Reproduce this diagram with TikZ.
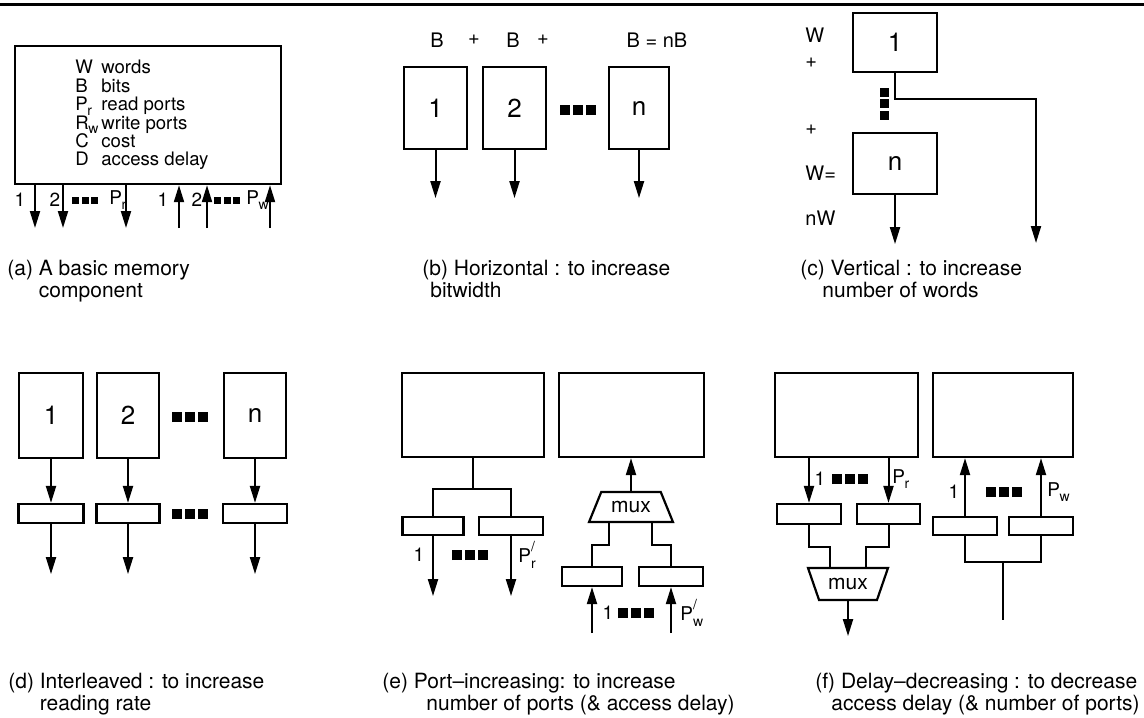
\documentclass[tikz,border=0pt]{standalone}
\usepackage{fontspec}
\setmainfont{TeX Gyre Heros}
\usepackage{tikz}
\usetikzlibrary{shapes.geometric, arrows.meta, positioning}
\newcommand{\tres}[1]{\rule{#1}{#1}\hspace{1.4pt}\rule{#1}{#1}\hspace{1.4pt}\rule{#1}{#1}}
\newcommand{\conind}[2]{#1\kern-0.2pt\raisebox{-0.45ex}{\scriptsize #2}}
\newcommand{\conprim}[2]{#1\rlap{\raisebox{1.1ex}{\scriptsize /}}\raisebox{-0.6ex}{\scriptsize #2}}
\tikzset{
  memoria/.style={rectangle, draw, line width=1.1pt, inner sep=0pt,
    font=\fontsize{13}{13}\selectfont},
  registro/.style={rectangle, draw, line width=1.1pt, inner sep=0pt},
  mux/.style={trapezium, draw, line width=1.1pt, trapezium stretches=true,
    inner sep=0pt, font=\fontsize{10.5}{10.5}\selectfont},
  flecha/.style={-{Triangle[length=8.5pt, width=5pt]}, line width=1pt},
  linea/.style={line width=1pt},
  etiq/.style={inner sep=0pt, font=\fontsize{9.5}{9.5}\selectfont},
  etiqg/.style={inner sep=0pt, font=\fontsize{10}{10}\selectfont},
  puntos/.style={inner sep=0pt},
  leyenda/.style={inner sep=0pt, anchor=north west, align=left,
    font=\fontsize{10.5}{10.8}\selectfont}
}
\begin{document}
\begin{tikzpicture}[x=0.5pt, y=-0.5pt]
  \useasboundingbox (0,0) rectangle (1144,717);
  \draw[line width=1.5pt] (0,5) -- (1144,5);

  % (a) basic memory
  \node[memoria, minimum width=133pt, minimum height=69pt, anchor=north west] (ma) at (14,45) {};
  \node[anchor=north west, inner sep=0pt, align=left, font=\fontsize{9.3}{9.2}\selectfont] (datos) at (75,60)
    {\makebox[13pt][l]{W}words\\ \makebox[13pt][l]{B}bits\\ \makebox[13pt][l]{\conind{P}{r}}read ports\\
     \makebox[13pt][l]{\conind{R}{w}}write ports\\ \makebox[13pt][l]{C}cost\\ \makebox[13pt][l]{D}access delay};
  \coordinate (ra1) at (35,228);
  \coordinate (ra2) at (63,228);
  \coordinate (ra3) at (126,228);
  \coordinate (wa1) at (179,228);
  \coordinate (wa2) at (207,228);
  \coordinate (wa3) at (270,228);
  \draw[flecha] (ra1 |- ma.south) -- (ra1);
  \draw[flecha] (ra2 |- ma.south) -- (ra2);
  \draw[flecha] (ra3 |- ma.south) -- (ra3);
  \draw[flecha] (wa1) -- (wa1 |- ma.south);
  \draw[flecha] (wa2) -- (wa2 |- ma.south);
  \draw[flecha] (wa3) -- (wa3 |- ma.south);
  \node[etiq] (la1) at (20,200) {1};
  \node[etiq] (la2) at (55,200) {2};
  \node[puntos] (pa1) at (85,200) {\tres{3.5pt}};
  \node[etiq, anchor=west] (la3) at (109,200) {\conind{P}{r}};
  \node[etiq] (la4) at (163,200) {1};
  \node[etiq] (la5) at (197,200) {2};
  \node[puntos] (pa2) at (227,200) {\tres{3.5pt}};
  \node[etiq, anchor=west] (la6) at (246,200) {\conind{P}{w}};
  \node[leyenda] (capa) at (7,260) {(a) A basic memory\\\phantom{(a) }component};

  % (b) horizontal
  \node[memoria, minimum width=31.5pt, minimum height=41pt] (b1) at (435.5,108) {1};
  \node[memoria, minimum width=31.5pt, minimum height=41pt] (b2) at (514.5,108) {2};
  \node[memoria, minimum width=30pt, minimum height=41pt] (bn) at (639,108) {n};
  \node[puntos] (pb) at (578,110) {\tres{5pt}};
  \node[etiqg] (lb1) at (437,40) {B};
  \node[etiqg] (lb2) at (474,40) {+};
  \node[etiqg] (lb3) at (513,40) {B};
  \node[etiqg] (lb4) at (543,40) {+};
  \node[etiqg] (lb5) at (657,40) {B = nB};
  \coordinate[below=24pt of b1] (sb1);
  \coordinate[below=24pt of b2] (sb2);
  \coordinate[below=24pt of bn] (sbn);
  \draw[flecha] (b1) -- (sb1);
  \draw[flecha] (b2) -- (sb2);
  \draw[flecha] (bn) -- (sbn);
  \node[leyenda] (capb) at (422,260) {(b) Horizontal : to increase\\\hspace{4pt}bitwidth};

  % (c) vertical
  \node[memoria, minimum width=42pt, minimum height=29.5pt] (c1) at (895,42.5) {1};
  \node[memoria, minimum width=42pt, minimum height=30.5pt] (cn) at (895,163.5) {n};
  \node[etiqg, anchor=west] (lc1) at (805,35) {W};
  \node[etiqg, anchor=west] (lc2) at (805,63) {+};
  \node[etiqg, anchor=west] (lc3) at (805,130) {+};
  \node[etiqg, anchor=west] (lc4) at (805,173) {W=};
  \node[etiqg, anchor=west] (lc5) at (805,218) {nW};
  \node[puntos, rotate=90] (pc) at (884,104) {\tres{4.5pt}};
  \coordinate (cq) at (1036,99);
  \coordinate (sc1) at (1036,243);
  \coordinate[below=24.5pt of cn] (scn);
  \draw[flecha] (c1.south) |- (cq) -- (sc1);
  \draw[flecha] (cn) -- (scn);
  \node[leyenda] (capc) at (800,260) {(c) Vertical : to increase\\\hspace{11pt}number of words};

  % (d) interleaved
  \node[memoria, minimum width=32pt, minimum height=42.5pt] (d1) at (51,415.5) {1};
  \node[memoria, minimum width=31pt, minimum height=42.5pt] (d2) at (128,415.5) {2};
  \node[memoria, minimum width=31pt, minimum height=42.5pt] (dn) at (255,415.5) {n};
  \node[registro, minimum width=32.5pt, minimum height=9.5pt] (rd1) at (51,513.5) {};
  \node[registro, minimum width=31.5pt, minimum height=9.5pt] (rd2) at (128,513.5) {};
  \node[registro, minimum width=32pt, minimum height=9.5pt] (rdn) at (255,513.5) {};
  \node[puntos] (pd1) at (190,417) {\tres{5pt}};
  \node[puntos] (pd2) at (190,514) {\tres{5pt}};
  \coordinate[below=25pt of rd1] (sd1);
  \coordinate[below=25pt of rd2] (sd2);
  \coordinate[below=25pt of rdn] (sdn);
  \draw[flecha] (d1) -- (rd1);
  \draw[flecha] (d2) -- (rd2);
  \draw[flecha] (dn) -- (rdn);
  \draw[flecha] (rd1) -- (sd1);
  \draw[flecha] (rd2) -- (sd2);
  \draw[flecha] (rdn) -- (sdn);
  \node[leyenda] (capd) at (8,673) {(d) Interleaved : to increase\\\phantom{(d) }reading rate};

  % (e) port-increasing
  \node[memoria, minimum width=71pt, minimum height=42pt] (e1) at (473,415) {};
  \node[memoria, minimum width=72.5pt, minimum height=42pt] (e2) at (631.5,415) {};
  \node[registro, minimum width=30.5pt, minimum height=9pt] (er1) at (433,526) {};
  \node[registro, minimum width=32pt, minimum height=9pt] (er2) at (511,526) {};
  \coordinate (ej) at (473,489);
  \draw[linea] (e1.south) -- (ej);
  \draw[linea] (er1.north) |- (ej) -| (er2.north);
  \coordinate[below=30pt of er1] (se1);
  \coordinate[below=30pt of er2] (se2);
  \draw[flecha] (er1) -- (se1);
  \draw[flecha] (er2) -- (se2);
  \node[etiq] (le1) at (419,555) {1};
  \node[puntos] (pe1) at (470,555) {\tres{5pt}};
  \node[etiq, anchor=west] (le2) at (518,555) {\conprim{P}{r}};
  \node[mux, minimum width=42pt, minimum height=15pt,
    trapezium left angle=55, trapezium right angle=55] (me) at (631,507) {mux};
  \draw[flecha] (me.north) -- (me.north |- e2.south);
  \node[registro, minimum width=30pt, minimum height=9.5pt] (ew1) at (592,576.5) {};
  \node[registro, minimum width=32pt, minimum height=9.5pt] (ew2) at (671,576.5) {};
  \coordinate (mx1) at (609,545);
  \coordinate (mx2) at (652,545);
  \draw[linea] (mx1 |- me.south) -- (mx1) -| (ew1.north);
  \draw[linea] (mx2 |- me.south) -- (mx2) -| (ew2.north);
  \coordinate[below=23pt of ew1] (ie1);
  \coordinate[below=23pt of ew2] (ie2);
  \draw[flecha] (ie1) -- (ew1);
  \draw[flecha] (ie2) -- (ew2);
  \node[etiq] (le3) at (608,613) {1};
  \node[puntos] (pe2) at (636,613) {\tres{5pt}};
  \node[etiq, anchor=west] (le4) at (680,613) {\conprim{P}{w}};
  \node[leyenda] (cape) at (382,673) {(e) Port--increasing: to increase\\\hspace{22pt}number of ports (\& access delay)};

  % (f) delay-decreasing
  \node[memoria, minimum width=71.5pt, minimum height=42pt] (f1) at (846.5,415) {};
  \node[memoria, minimum width=70pt, minimum height=42pt] (f2) at (1003,415) {};
  \node[registro, minimum width=32pt, minimum height=10pt] (fr1) at (809,514) {};
  \node[registro, minimum width=31.5pt, minimum height=10pt] (fr2) at (888.5,514) {};
  \draw[flecha] (fr1.north |- f1.south) -- (fr1.north);
  \draw[flecha] (fr2.north |- f1.south) -- (fr2.north);
  \node[etiq] (lf1) at (820,479) {1};
  \node[puntos] (pf1) at (850,479) {\tres{5pt}};
  \node[etiq, anchor=west] (lf2) at (892,479) {\conind{P}{r}};
  \node[mux, minimum width=40pt, minimum height=16pt,
    trapezium left angle=123, trapezium right angle=123] (mf) at (848,584) {mux};
  \coordinate (fx1) at (830,547);
  \coordinate (fx2) at (866,547);
  \draw[linea] (fr1.south) |- (fx1) -- (fx1 |- mf.north);
  \draw[linea] (fr2.south) |- (fx2) -- (fx2 |- mf.north);
  \coordinate[below=17.5pt of mf] (sf1);
  \draw[flecha] (mf.south) -- (sf1);
  \node[registro, minimum width=32pt, minimum height=9pt] (fw1) at (965,526) {};
  \node[registro, minimum width=32pt, minimum height=9pt] (fw2) at (1041,526) {};
  \draw[flecha] (fw1.north) -- (fw1.north |- f2.south);
  \draw[flecha] (fw2.north) -- (fw2.north |- f2.south);
  \node[etiq] (lf3) at (954,492) {1};
  \node[puntos] (pf2) at (1004,492) {\tres{5pt}};
  \node[etiq, anchor=west] (lf4) at (1047,492) {\conind{P}{w}};
  \coordinate (fj) at (1003,562);
  \coordinate (fe) at (1003,620);
  \draw[linea] (fw1.south) |- (fj) -| (fw2.south);
  \draw[linea] (fj) -- (fe);
  \node[leyenda] (capf) at (815,673) {(f) Delay--decreasing : to decrease\\\hspace{8pt}access delay (\& number of ports)};
\end{tikzpicture}
\end{document}
